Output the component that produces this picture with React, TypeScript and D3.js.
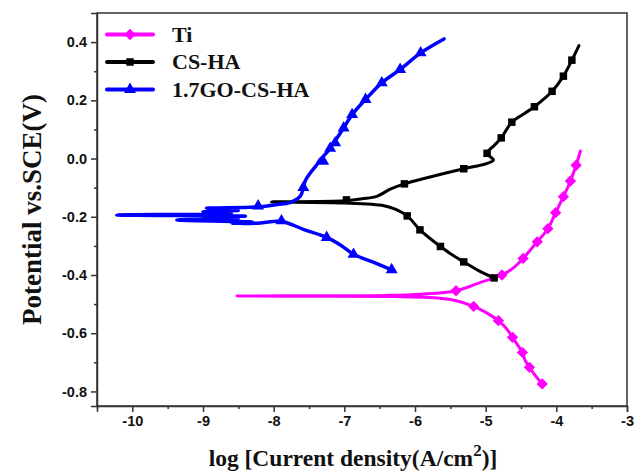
import React, { useRef, useEffect } from 'react';
import * as d3 from 'd3';

type Pt = [number, number];

// Ti: cathodic end -> Ecorr -> anodic end
const tiLine: Pt[] = [
  [-4.2, -0.774], [-4.3, -0.745], [-4.38, -0.717], [-4.44, -0.694], [-4.48, -0.666],
  [-4.54, -0.643], [-4.62, -0.614], [-4.7, -0.586], [-4.82, -0.557], [-4.98, -0.531],
  [-5.17, -0.508], [-5.46, -0.486], [-5.8, -0.477], [-6.3, -0.474], [-7.2, -0.473],
  [-8.52, -0.472], [-7.2, -0.471], [-6.4, -0.470], [-5.92, -0.466], [-5.42, -0.454],
  [-5.08, -0.426], [-4.77, -0.4], [-4.6, -0.374], [-4.47, -0.343], [-4.27, -0.286],
  [-4.12, -0.241], [-4.01, -0.186], [-3.9, -0.131], [-3.8, -0.077], [-3.72, -0.023],
  [-3.66, 0.026],
];
const tiMarks: Pt[] = [
  [-4.2, -0.774], [-4.38, -0.717], [-4.48, -0.666], [-4.62, -0.614], [-4.82, -0.557],
  [-5.17, -0.508], [-5.42, -0.454], [-4.77, -0.4], [-4.47, -0.343], [-4.27, -0.286],
  [-4.12, -0.241], [-4.01, -0.186], [-3.9, -0.131], [-3.8, -0.077], [-3.72, -0.023],
];

const csLine: Pt[] = [
  [-4.88, -0.41], [-5.1, -0.385], [-5.31, -0.355], [-5.48, -0.33], [-5.64, -0.302],
  [-5.8, -0.272], [-5.93, -0.245], [-6.11, -0.197], [-6.3, -0.172], [-6.44, -0.162],
  [-7.0, -0.153], [-8.03, -0.149], [-7.0, -0.145], [-6.75, -0.138], [-6.54, -0.13],
  [-6.35, -0.105], [-6.15, -0.087], [-5.83, -0.066], [-5.31, -0.035], [-5.0, -0.018],
  [-4.89, -0.005], [-4.98, 0.018], [-4.88, 0.045], [-4.78, 0.071], [-4.63, 0.125],
  [-4.45, 0.155], [-4.31, 0.178], [-4.06, 0.231], [-3.9, 0.283], [-3.78, 0.338],
  [-3.68, 0.388],
];
const csMarks: Pt[] = [
  [-4.88, -0.41], [-5.31, -0.355], [-5.64, -0.302], [-5.93, -0.245], [-6.11, -0.197],
  [-6.97, -0.142], [-6.15, -0.087], [-5.31, -0.035], [-4.98, 0.018], [-4.78, 0.071],
  [-4.63, 0.125], [-4.31, 0.178], [-4.06, 0.231], [-3.9, 0.283], [-3.78, 0.338],
];

const goLine: Pt[] = [
  [-6.33, -0.382], [-6.6, -0.355], [-6.87, -0.329], [-7.05, -0.298], [-7.25, -0.271],
  [-7.58, -0.243], [-7.89, -0.216], [-8.24, -0.222], [-8.59, -0.222], [-8.3, -0.218],
  [-9.37, -0.211], [-8.5, -0.206], [-9.0, -0.201], [-8.4, -0.198], [-10.22, -0.194],
  [-8.6, -0.189], [-9.0, -0.183], [-8.5, -0.178], [-8.95, -0.171], [-8.22, -0.166],
  [-7.95, -0.158], [-7.77, -0.151], [-7.62, -0.128], [-7.58, -0.1], [-7.55, -0.075],
  [-7.48, -0.049], [-7.4, -0.025], [-7.34, -0.003], [-7.25, 0.02], [-7.15, 0.054],
  [-7.01, 0.105], [-6.89, 0.151], [-6.7, 0.203], [-6.47, 0.26], [-6.21, 0.306],
  [-5.92, 0.363], [-5.59, 0.411],
];
const goMarks: Pt[] = [
  [-6.33, -0.382], [-6.87, -0.329], [-7.25, -0.271], [-7.89, -0.214], [-8.22, -0.163],
  [-7.58, -0.1], [-7.3, -0.009], [-7.2, 0.035], [-7.13, 0.054], [-7.01, 0.105],
  [-6.89, 0.151], [-6.7, 0.203], [-6.47, 0.26], [-6.21, 0.306], [-5.92, 0.363],
];

const seriesNames = ['Ti', 'CS-HA', '1.7GO-CS-HA'];
const seriesColors = ['#ff00ff', '#000000', '#0000ff'];
const seriesShapes = ['diamond', 'square', 'triangle'];

const xTicks = [-10, -9, -8, -7, -6, -5, -4, -3];
const yTicks = [-0.8, -0.6, -0.4, -0.2, 0.0, 0.2, 0.4];

const W = 644;
const H = 473;

const App = () => {
  const ref = useRef<SVGSVGElement>(null);

  useEffect(() => {
    const svg = d3.select(ref.current);
    svg.selectAll('*').remove();

    const margin = { top: 13, right: 17, bottom: 67, left: 97 };
    const x = d3.scaleLinear().domain([-10.5, -3]).range([margin.left, W - margin.right]);
    const y = d3.scaleLinear().domain([-0.85, 0.5]).range([H - margin.bottom, margin.top]);

    const axisColor = '#333';
    const tickFont = '"Liberation Sans", Arial, sans-serif';
    const serif = '"Liberation Serif", "Times New Roman", serif';

    // frame
    svg.append('rect')
      .attr('x', x(-10.5)).attr('y', y(0.5))
      .attr('width', x(-3) - x(-10.5)).attr('height', y(-0.85) - y(0.5))
      .attr('fill', 'none').attr('stroke', axisColor).attr('stroke-width', 1.5);

    // x axis
    const xAxis = svg.append('g')
      .attr('transform', `translate(0,${y(-0.85)})`)
      .call(d3.axisBottom(x).tickValues(xTicks).tickSize(6).tickPadding(4).tickFormat(d => String(d)));
    xAxis.select('.domain').attr('stroke', axisColor).attr('stroke-width', 1.5);
    xAxis.selectAll('line').attr('stroke', axisColor).attr('stroke-width', 1.5);
    xAxis.selectAll('text').attr('font-family', tickFont).attr('font-weight', 'bold')
      .attr('font-size', 14.5).attr('fill', '#111');
    svg.append('g').attr('transform', `translate(0,${y(-0.85)})`)
      .call(d3.axisBottom(x).tickValues(d3.range(-10.5, -3, 1)).tickSize(3).tickFormat(() => ''))
      .call(g => g.select('.domain').remove())
      .selectAll('line').attr('stroke', axisColor).attr('stroke-width', 1.5);

    // y axis
    const yAxis = svg.append('g')
      .attr('transform', `translate(${x(-10.5)},0)`)
      .call(d3.axisLeft(y).tickValues(yTicks).tickSize(6).tickPadding(4).tickFormat(d => (d as number).toFixed(1)));
    yAxis.select('.domain').attr('stroke', axisColor).attr('stroke-width', 1.5);
    yAxis.selectAll('line').attr('stroke', axisColor).attr('stroke-width', 1.5);
    yAxis.selectAll('text').attr('font-family', tickFont).attr('font-weight', 'bold')
      .attr('font-size', 14.5).attr('fill', '#111');
    svg.append('g').attr('transform', `translate(${x(-10.5)},0)`)
      .call(d3.axisLeft(y).tickValues([-0.7, -0.5, -0.3, -0.1, 0.1, 0.3]).tickSize(3).tickFormat(() => ''))
      .call(g => g.select('.domain').remove())
      .selectAll('line').attr('stroke', axisColor).attr('stroke-width', 1.5);

    // axis titles
    const xt = svg.append('text')
      .attr('x', 353).attr('y', 466)
      .attr('text-anchor', 'middle')
      .attr('font-family', serif).attr('font-weight', 'bold').attr('font-size', 23.5)
      .attr('fill', '#111');
    xt.append('tspan').text('log [Current density(A/cm');
    xt.append('tspan').attr('dy', -10).attr('font-size', 17).text('2');
    xt.append('tspan').attr('dy', 10).text(')]');

    svg.append('text')
      .attr('transform', `translate(41,${(y(0.5) + y(-0.85)) / 2}) rotate(-90)`)
      .attr('text-anchor', 'middle')
      .attr('font-family', serif).attr('font-weight', 'bold').attr('font-size', 27)
      .attr('fill', '#111')
      .text('Potential vs.SCE(V)');

    const line = d3.line<Pt>()
      .x(d => x(d[0])).y(d => y(d[1]))
      .curve(d3.curveCatmullRom.alpha(0.5));

    const symbolFor = (shape: string) => {
      if (shape === 'triangle') return d3.symbol(d3.symbolTriangle, 62)();
      return d3.symbol(d3.symbolSquare, shape === 'diamond' ? 64 : 56)();
    };
    const markerTransform = (shape: string, px: number, py: number) =>
      shape === 'diamond' ? `translate(${px},${py}) rotate(45)` : `translate(${px},${py})`;

    const series = [
      { line: tiLine, marks: tiMarks, width: 3 },
      { line: csLine, marks: csMarks, width: 3 },
      { line: goLine, marks: goMarks, width: 3.5 },
    ];

    const plot = svg.append('g');
    series.forEach((s, i) => {
      plot.append('path')
        .datum(s.line)
        .attr('d', line)
        .attr('fill', 'none')
        .attr('stroke', seriesColors[i])
        .attr('stroke-width', s.width)
        .attr('stroke-linejoin', 'round')
        .attr('stroke-linecap', 'round');
      plot.selectAll(`.m${i}`)
        .data(s.marks)
        .enter().append('path')
        .attr('class', `m${i}`)
        .attr('d', symbolFor(seriesShapes[i]))
        .attr('transform', d => markerTransform(seriesShapes[i], x(d[0]), y(d[1])))
        .attr('fill', seriesColors[i]);
    });

    // legend
    const legend = svg.append('g');
    seriesNames.forEach((name, i) => {
      const ly = 34.5 + i * 27.5;
      legend.append('line')
        .attr('x1', 107).attr('x2', 153).attr('y1', ly).attr('y2', ly)
        .attr('stroke', seriesColors[i]).attr('stroke-width', 4)
        .attr('stroke-linecap', 'round');
      legend.append('path')
        .attr('d', symbolFor(seriesShapes[i]))
        .attr('transform', markerTransform(seriesShapes[i], 130, ly))
        .attr('fill', seriesColors[i]);
      legend.append('text')
        .attr('x', 172).attr('y', ly + 7)
        .attr('font-family', serif).attr('font-weight', 'bold').attr('font-size', 22)
        .attr('fill', '#111')
        .text(name);
    });
  }, []);

  return (
    <svg
      ref={ref}
      width={W}
      height={H}
      style={{ position: 'absolute', left: 0, top: 0, background: '#fff' }}
    />
  );
};

export default App;
